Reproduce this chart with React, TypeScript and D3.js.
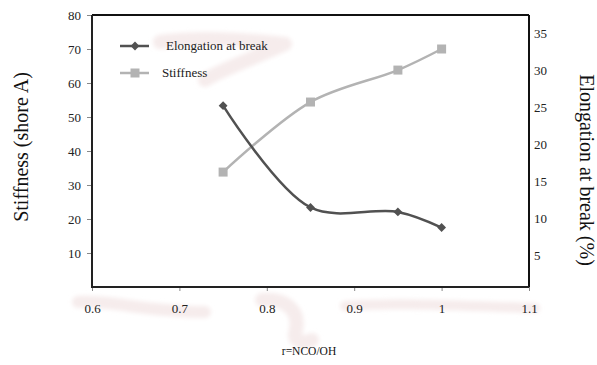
import React, { useEffect, useRef } from "react";
import * as d3 from "d3";

const WIDTH = 597;
const HEIGHT = 365;

// r = NCO/OH
const ratio = [0.75, 0.85, 0.95, 1.0];
const stiffness = [33.8, 54.4, 63.8, 70];
const elongation = [25.2, 11.5, 10.9, 8.8];

const xTicks = [0.6, 0.7, 0.8, 0.9, 1.0, 1.1];
const xTickLabels = ["0.6", "0.7", "0.8", "0.9", "1", "1.1"];
const leftTicks = [10, 20, 30, 40, 50, 60, 70, 80];
const rightTicks = [5, 10, 15, 20, 25, 30, 35];

const DARK = "#515151";
const LIGHT = "#b3b3b3";
const FONT = "Liberation Serif, Times New Roman, serif";

const margin = { top: 15, right: 68, bottom: 78, left: 92 };

export default function App() {
  const ref = useRef<SVGSVGElement>(null);

  useEffect(() => {
    const svg = d3.select(ref.current);
    svg.selectAll("*").remove();

    const x0 = margin.left;
    const x1 = WIDTH - margin.right;
    const y0 = HEIGHT - margin.bottom;
    const y1 = margin.top;

    const x = d3.scaleLinear().domain([0.6, 1.1]).range([x0, x1]);
    const yLeft = d3.scaleLinear().domain([0, 80]).range([y0, y1]);
    const yRight = d3.scaleLinear().domain([0.8, 37.4]).range([y0, y1]);

    svg.append("rect").attr("width", WIDTH).attr("height", HEIGHT).attr("fill", "#fff");

    const defs = svg.append("defs");
    defs.append("filter").attr("id", "soft").append("feGaussianBlur").attr("stdDeviation", 2);

    // faint pink smudges seen on the scan
    const smudge = svg.append("g").attr("fill", "none").attr("stroke", "#f6ecec")
      .attr("stroke-linecap", "round").attr("stroke-linejoin", "round").attr("filter", "url(#soft)");
    smudge.append("path").attr("d", "M78,302 C110,300 150,312 205,312").attr("stroke-width", 12);
    smudge.append("path").attr("d", "M262,300 C285,298 300,310 296,330 C292,340 300,345 312,340").attr("stroke-width", 14);
    smudge.append("path").attr("d", "M345,306 C400,302 470,306 535,308").attr("stroke-width", 10);
    smudge.append("path").attr("d", "M160,42 C200,36 250,40 285,44 C250,60 220,70 205,80").attr("stroke-width", 14);

    // frame
    svg.append("line").attr("x1", x0).attr("x2", x1).attr("y1", y1).attr("y2", y1)
      .attr("stroke", "#111").attr("stroke-width", 2);
    svg.append("line").attr("x1", x1).attr("x2", x1).attr("y1", y1).attr("y2", y0)
      .attr("stroke", "#111").attr("stroke-width", 2);

    const styleText = (sel: any, size: number) =>
      sel.attr("font-family", FONT).style("font-family", FONT).attr("font-size", size).attr("fill", "#222");

    // left axis
    const gl = svg.append("g").attr("transform", `translate(${x0},0)`)
      .call(d3.axisLeft(yLeft).tickValues(leftTicks).tickSize(5).tickPadding(6).tickFormat(d3.format("d")));
    gl.select(".domain").remove();
    gl.selectAll(".tick line").attr("stroke", "#888");
    styleText(gl.selectAll("text"), 13);

    // right axis (labels only)
    const gr = svg.append("g").attr("transform", `translate(${x1},0)`)
      .call(d3.axisRight(yRight).tickValues(rightTicks).tickSize(0).tickPadding(5).tickFormat(d3.format("d")));
    gr.select(".domain").remove();
    styleText(gr.selectAll("text"), 13);

    // bottom axis
    const gb = svg.append("g").attr("transform", `translate(0,${y0})`)
      .call(d3.axisBottom(x).tickValues(xTicks).tickSize(4).tickPadding(13)
        .tickFormat((d, i) => xTickLabels[i]));
    gb.select(".domain").remove();
    gb.selectAll(".tick line").attr("stroke", "#888");
    styleText(gb.selectAll("text"), 13);

    svg.append("line").attr("x1", x0).attr("x2", x0).attr("y1", y1).attr("y2", y0 + 1)
      .attr("stroke", "#222").attr("stroke-width", 2);
    svg.append("line").attr("x1", x0 - 1).attr("x2", x1).attr("y1", y0).attr("y2", y0)
      .attr("stroke", "#222").attr("stroke-width", 2);

    // series
    const curve = d3.curveCatmullRom.alpha(0.5);
    const stiffLine = d3.line<number>().x((_, i) => x(ratio[i])).y((d) => yLeft(d)).curve(curve);
    const elongLine = d3.line<number>().x((_, i) => x(ratio[i])).y((d) => yRight(d)).curve(curve);

    svg.append("path").attr("d", stiffLine(stiffness)).attr("fill", "none")
      .attr("stroke", LIGHT).attr("stroke-width", 2.5);
    svg.append("path").attr("d", elongLine(elongation)).attr("fill", "none")
      .attr("stroke", DARK).attr("stroke-width", 2.5);

    const sq = 9;
    svg.append("g").selectAll("rect").data(stiffness).join("rect")
      .attr("x", (_, i) => x(ratio[i]) - sq / 2).attr("y", (d) => yLeft(d) - sq / 2)
      .attr("width", sq).attr("height", sq).attr("fill", LIGHT);

    const diamond = d3.symbol().type(d3.symbolDiamond2).size(50);
    svg.append("g").selectAll("path").data(elongation).join("path")
      .attr("d", diamond)
      .attr("transform", (d, i) => `translate(${x(ratio[i])},${yRight(d)})`)
      .attr("fill", DARK);

    // legend
    const lg = svg.append("g");
    lg.append("line").attr("x1", 120).attr("x2", 149).attr("y1", 46).attr("y2", 46)
      .attr("stroke", DARK).attr("stroke-width", 2.5);
    lg.append("path").attr("d", diamond).attr("transform", "translate(135,46)").attr("fill", DARK);
    styleText(lg.append("text").attr("x", 166).attr("y", 50).text("Elongation at break"), 13);
    lg.append("line").attr("x1", 120).attr("x2", 149).attr("y1", 73).attr("y2", 73)
      .attr("stroke", LIGHT).attr("stroke-width", 2.5);
    lg.append("rect").attr("x", 135 - sq / 2).attr("y", 73 - sq / 2).attr("width", sq).attr("height", sq)
      .attr("fill", LIGHT);
    styleText(lg.append("text").attr("x", 162).attr("y", 77).text("Stiffness"), 13);

    // axis titles
    styleText(svg.append("text").attr("transform", "translate(28,147) rotate(-90)")
      .attr("text-anchor", "middle").text("Stiffness (shore A)"), 20).attr("fill", "#111");
    styleText(svg.append("text").attr("transform", "translate(580,170) rotate(90)")
      .attr("text-anchor", "middle").text("Elongation at break (%)"), 20).attr("fill", "#111");
    styleText(svg.append("text").attr("x", 309).attr("y", 355)
      .attr("text-anchor", "middle").text("r=NCO/OH"), 11.5).attr("fill", "#111");
  }, []);

  return (
    <div style={{ position: "absolute", left: 0, top: 0 }}>
      <svg ref={ref} width={WIDTH} height={HEIGHT} style={{ display: "block" }} />
    </div>
  );
}
